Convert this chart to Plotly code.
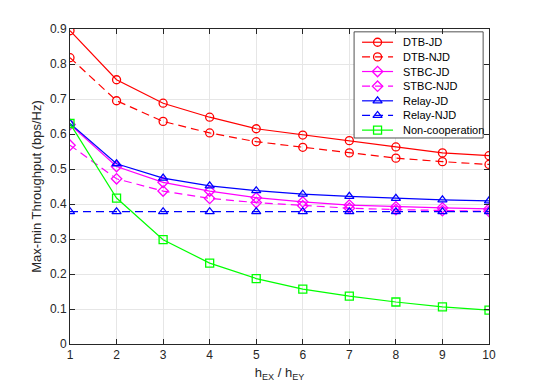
import plotly.graph_objects as go

ratio = [1, 2, 3, 4, 5, 6, 7, 8, 9, 10]

dtb_jd = [0.895, 0.755, 0.688, 0.648, 0.615, 0.597, 0.581, 0.563, 0.546, 0.538]
dtb_njd = [0.818, 0.695, 0.636, 0.603, 0.578, 0.562, 0.546, 0.531, 0.521, 0.513]
stbc_jd = [0.627, 0.507, 0.462, 0.437, 0.418, 0.406, 0.397, 0.392, 0.389, 0.386]
stbc_njd = [0.568, 0.472, 0.437, 0.416, 0.404, 0.395, 0.388, 0.384, 0.381, 0.379]
relay_jd = [0.630, 0.515, 0.474, 0.452, 0.438, 0.428, 0.422, 0.416, 0.412, 0.409]
relay_njd = [0.378, 0.378, 0.378, 0.378, 0.378, 0.378, 0.378, 0.378, 0.378, 0.378]
non_coop = [0.630, 0.417, 0.298, 0.231, 0.187, 0.157, 0.137, 0.120, 0.106, 0.097]

y_ticks = [0, 0.1, 0.2, 0.3, 0.4, 0.5, 0.6, 0.7, 0.8, 0.9]
y_tick_labels = ["0", "0.1", "0.2", "0.3", "0.4", "0.5", "0.6", "0.7", "0.8", "0.9"]

DASH = "8px,5px"

series = [
    ("DTB-JD", dtb_jd, "#ff0000", "solid", "circle-open"),
    ("DTB-NJD", dtb_njd, "#ff0000", DASH, "circle-open"),
    ("STBC-JD", stbc_jd, "#ff00ff", "solid", "diamond-open"),
    ("STBC-NJD", stbc_njd, "#ff00ff", DASH, "diamond-open"),
    ("Relay-JD", relay_jd, "#0000ff", "solid", "triangle-up-open"),
    ("Relay-NJD", relay_njd, "#0000ff", DASH, "triangle-up-open"),
    ("Non-cooperation", non_coop, "#00ff00", "solid", "square-open"),
]

fig = go.Figure()
for name, values, color, dash, symbol in series:
    fig.add_trace(go.Scatter(
        x=ratio, y=values, name=name, mode="lines+markers", showlegend=False,
        line=dict(color=color, width=1.2, dash=dash),
        marker=dict(symbol=symbol, size=8, color=color, line=dict(width=1.3, color=color))))

# MATLAB-style legend box drawn by hand (plotly's legend rows are too tall)
box_left, box_right = 0.678, 0.986
box_bottom, box_top = 0.654, 0.991
row_first, row_step = 0.958, 0.0465
sample_x0, sample_x1, text_x = 0.697, 0.771, 0.790

fig.add_trace(go.Scatter(
    x=[box_left, box_right, box_right, box_left, box_left],
    y=[box_bottom, box_bottom, box_top, box_top, box_bottom],
    mode="lines", fill="toself", fillcolor="white",
    line=dict(color="#262626", width=0.8),
    xaxis="x2", yaxis="y2", hoverinfo="skip", showlegend=False))

for i, (name, values, color, dash, symbol) in enumerate(series):
    yc = row_first - row_step * i
    fig.add_trace(go.Scatter(
        x=[sample_x0, sample_x1], y=[yc, yc], mode="lines",
        line=dict(color=color, width=1.2, dash=dash),
        xaxis="x2", yaxis="y2", hoverinfo="skip", showlegend=False))
    fig.add_trace(go.Scatter(
        x=[(sample_x0 + sample_x1) / 2], y=[yc], mode="markers",
        marker=dict(symbol=symbol, size=8, color=color, line=dict(width=1.3, color=color)),
        xaxis="x2", yaxis="y2", hoverinfo="skip", showlegend=False))
    fig.add_annotation(x=text_x, y=yc, xref="paper", yref="paper",
                       text=name, showarrow=False, xanchor="left", yanchor="middle",
                       font=dict(size=11, color="#000000"))

axis_common = dict(
    showline=True, linecolor="#262626", linewidth=1, mirror="ticks",
    ticks="inside", ticklen=5, tickcolor="#262626",
    showgrid=True, gridcolor="#e6e6e6", gridwidth=1, zeroline=False,
    tickfont=dict(size=12, color="#262626"))

fig.update_xaxes(range=[1, 10], dtick=1, tick0=1,
                 title=dict(text="h<sub>EX</sub> / h<sub>EY</sub>", font=dict(size=13, color="#262626"), standoff=6),
                 **axis_common)
fig.update_yaxes(range=[0, 0.9], tickvals=y_ticks, ticktext=y_tick_labels,
                 title=dict(text="Max-min Throughput (bps/Hz)", font=dict(size=13, color="#262626"), standoff=5),
                 **axis_common)

# page body adds an 8px margin, so the figure is shrunk and shifted to compensate
fig.update_layout(
    width=532, height=382,
    margin=dict(l=62, r=51, t=21, b=43),
    paper_bgcolor="white", plot_bgcolor="white",
    font=dict(family="Liberation Sans, Arial, sans-serif", size=12, color="#262626"),
    xaxis2=dict(overlaying="x", range=[0, 1], visible=False, fixedrange=True),
    yaxis2=dict(overlaying="y", range=[0, 1], visible=False, fixedrange=True),
    showlegend=False)

fig.write_html("out.html")
